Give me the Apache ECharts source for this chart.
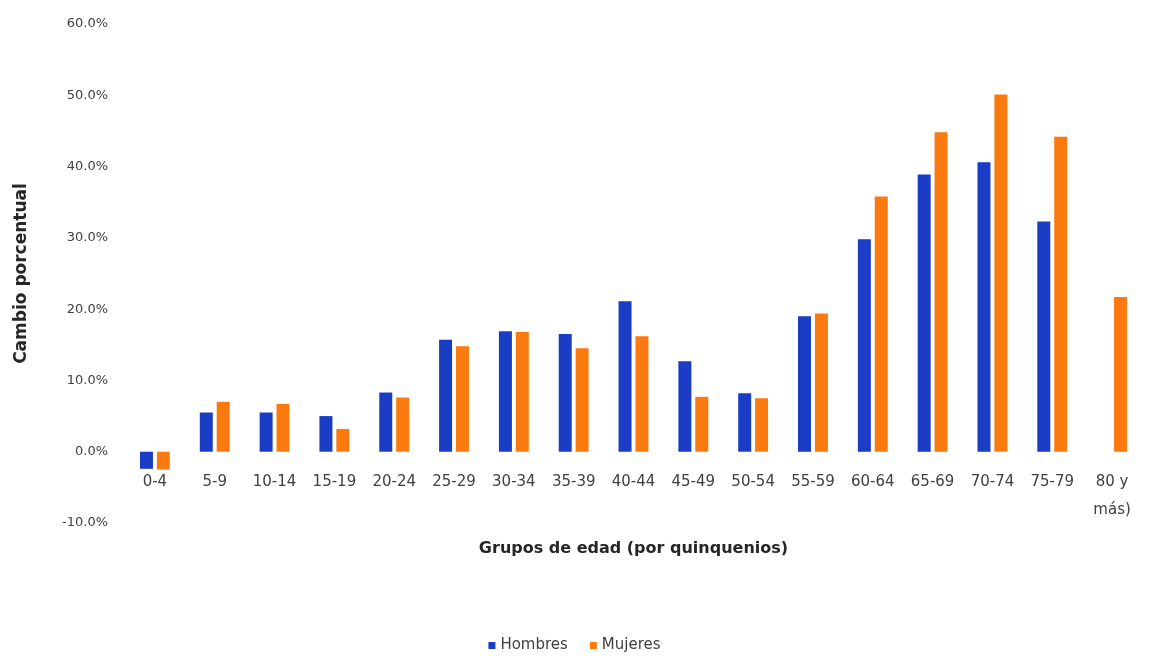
<!DOCTYPE html>
<html>
<head>
<meta charset="utf-8">
<script src="https://cdn.jsdelivr.net/npm/echarts@6/dist/echarts.min.js"></script>
<style>
html,body{margin:0;padding:0;background:#fff;}
#chart{width:1149px;height:658px;}
</style>
</head>
<body>
<div id="chart"></div>
<script>
const categories = ['0-4','5-9','10-14','15-19','20-24','25-29','30-34','35-39','40-44','45-49','50-54','55-59','60-64','65-69','70-74','75-79','80 y\nmás)'];
const hombres = [-2.4, 5.5, 5.5, 5.0, 8.3, 15.7, 16.9, 16.5, 21.1, 12.7, 8.2, 19.0, 29.8, 38.9, 40.6, 32.3, null];
const mujeres = [-2.5, 7.0, 6.7, 3.2, 7.6, 14.8, 16.8, 14.5, 16.2, 7.7, 7.5, 19.4, 35.8, 44.8, 50.1, 44.2, 21.7];
const seriesNames = ['Hombres', 'Mujeres'];
const yTicks = {min: -10, max: 60, interval: 10};

const chart = echarts.init(document.getElementById('chart'));
const font = '"DejaVu Sans", sans-serif';
chart.setOption({
  backgroundColor: '#ffffff',
  animation: false,
  grid: {left: 125, right: 7, top: 24, bottom: 135},
  legend: {
    data: seriesNames,
    bottom: 0,
    left: 'center',
    itemWidth: 7, itemHeight: 7, itemGap: 22,
    icon: 'rect',
    textStyle: {fontFamily: font, fontSize: 15, color: '#404040'}
  },
  xAxis: {
    type: 'category',
    data: categories,
    position: 'bottom',
    offset: -70,
    axisLine: {show: false, onZero: false},
    axisTick: {show: false},
    axisLabel: {margin: 15, fontFamily: font, fontSize: 15, color: '#404040', interval: 0, lineHeight: 28},
    name: 'Grupos de edad (por quinquenios)',
    nameLocation: 'middle',
    nameGap: 88,
    nameTextStyle: {fontFamily: font, fontSize: 16, fontWeight: 'bold', color: '#262626'}
  },
  yAxis: {
    type: 'value',
    min: yTicks.min, max: yTicks.max, interval: yTicks.interval,
    axisLine: {show: false},
    axisTick: {show: false},
    splitLine: {show: false},
    axisLabel: {
      margin: 17, fontFamily: font, fontSize: 13, color: '#404040',
      formatter: v => v.toFixed(1) + '%'
    },
    name: 'Cambio porcentual',
    nameLocation: 'middle',
    nameGap: 95,
    nameTextStyle: {fontFamily: font, fontSize: 17, fontWeight: 'bold', color: '#262626'}
  },
  series: [
    {name: seriesNames[0], type: 'bar', data: hombres, barWidth: 13, barGap: '30%', itemStyle: {color: '#1b3dc6'}},
    {name: seriesNames[1], type: 'bar', data: mujeres, barWidth: 13, itemStyle: {color: '#fb7a10'}}
  ]
});
</script>
</body>
</html>
